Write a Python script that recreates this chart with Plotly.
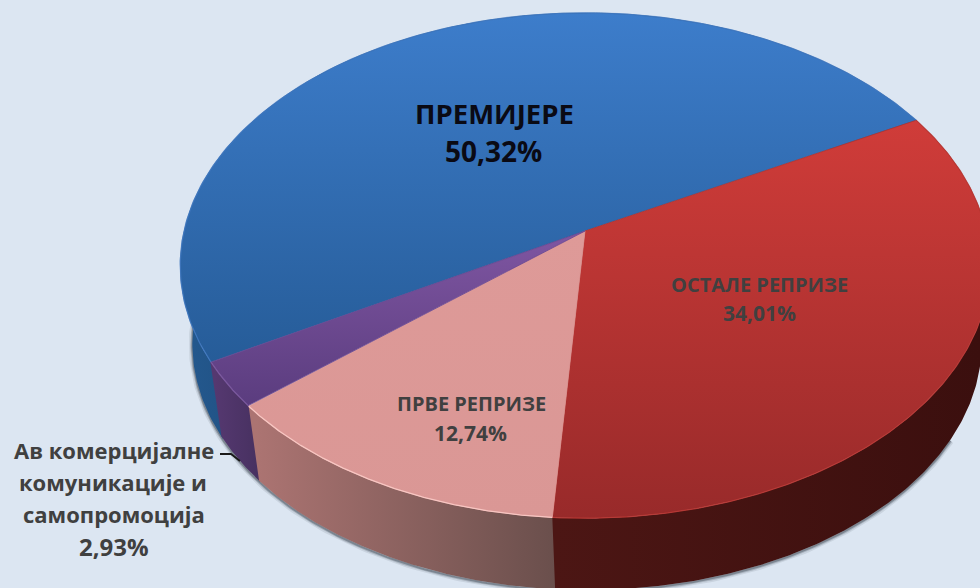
import numpy as np
import plotly.graph_objects as go

categories = ["ПРЕМИЈЕРЕ", "ОСТАЛЕ РЕПРИЗЕ", "ПРВЕ РЕПРИЗЕ", "Ав комерцијалне комуникације и самопромоција"]
values = [50.32, 34.01, 12.74, 2.93]
value_labels = ["50,32%", "34,01%", "12,74%", "2,93%"]
top_colors = [("#3d7dcb", "#265c98"), ("#d03c39", "#982a2a"), ("#de9a98", "#da9795"), ("#7f56a2", "#5a3c7e")]
top_mid = ["#3068a8", "#b5322f", "#dc9896", "#6b4890"]
wall_colors = [("#24598f", "#1f4f80"), ("#4c1614", "#3b0f0e"), ("#ac7472", "#6a4f4c"), ("#553870", "#46305f")]
gradient_spans = [(13, 362), (120, 518), (230, 518), (232, 408)]

START_DEG = -119.55
CX, CY, RX, RY, K = 585, 231, 401, 248, 0.1366
BOTTOM_SCALE, BOTTOM_CY, BOTTOM_CX = 0.975, 310, 587


def project(theta_deg, scale=1.0, cy=CY, cx=CX):
    t = np.radians(theta_deg)
    c, s = np.sin(t), np.cos(t)
    w = 1 + K * s
    return cx + scale * RX * c / w, cy - scale * RY * s / w


def grad(a, b, typ, start, stop):
    return dict(type=typ, start=start, stop=stop, colorscale=[[0, a], [1, b]])


edges = START_DEG + np.concatenate([[0], np.cumsum(values)]) * 3.6
arcs = [np.linspace(edges[i], edges[i + 1], 240) for i in range(len(values))]

fig = go.Figure()

# soft shadow under the near edge
full = np.linspace(120, 300, 300)
sx, sy = project(full, BOTTOM_SCALE, BOTTOM_CY, BOTTOM_CX)
for width, alpha in [(7, 0.10), (4, 0.20), (2, 0.35)]:
    fig.add_trace(go.Scatter(x=sx, y=sy + 1, mode="lines", line=dict(color=f"rgba(40,50,60,{alpha})", width=width),
                             hoverinfo="skip", showlegend=False))

# side walls (slightly overlapped so no seam shows the background)
wall_spans = [(180, 260), (556, 980), (255, 556), (215, 262)]
for i in [0, 1, 3, 2]:
    arc = np.linspace(arcs[i][0] - 0.3, arcs[i][-1] + 0.3, 240) if i != 2 else arcs[i]
    tx, ty = project(arc)
    bx, by = project(arc, BOTTOM_SCALE, BOTTOM_CY, BOTTOM_CX)
    px = np.concatenate([tx, bx[::-1], tx[:1]])
    py = np.concatenate([ty, by[::-1], ty[:1]])
    g = grad(wall_colors[i][0], wall_colors[i][1], "horizontal", wall_spans[i][0], wall_spans[i][1])
    fig.add_trace(go.Scatter(x=px, y=py, mode="lines", fill="toself", fillgradient=g,
                             line=dict(width=0), hoverinfo="skip", showlegend=False, name=categories[i]))

# top faces
for i in range(len(values)):
    ax, ay = project(arcs[i])
    px = np.concatenate([[CX], ax, [CX]])
    py = np.concatenate([[CY], ay, [CY]])
    fig.add_trace(go.Scatter(x=px, y=py, mode="lines", fill="toself",
                             fillgradient=grad(top_colors[i][0], top_colors[i][1], "vertical", gradient_spans[i][0], gradient_spans[i][1]),
                             line=dict(width=0.8, color=top_mid[i]), hoverinfo="skip", showlegend=False, name=categories[i]))

# bevel highlight along the rims
rim_colors = ["rgba(70,125,200,0.6)", "rgba(190,60,55,0.5)", "#f8c6c2", "rgba(125,90,160,0.8)"]
for i in range(len(values)):
    ax, ay = project(arcs[i])
    fig.add_trace(go.Scatter(x=ax, y=ay, mode="lines", line=dict(color=rim_colors[i], width=1.3),
                             hoverinfo="skip", showlegend=False))

FONT = "Open Sans, Noto Sans, sans-serif"
text_items = [
    ("<b>ПРЕМИЈЕРЕ</b>", 494, 113, 27.5, "#0a0a14"),
    ("<b>50,32%</b>", 493, 151, 28, "#0a0a14"),
    ("<b>ОСТАЛЕ РЕПРИЗЕ</b>", 759, 284, 20, "#404040"),
    ("<b>34,01%</b>", 759, 313, 21, "#404040"),
    ("<b>ПРВЕ РЕПРИЗЕ</b>", 471, 403, 20, "#404040"),
    ("<b>12,74%</b>", 470, 433, 21, "#404040"),
    ("<b>Ав комерцијалне</b>", 114, 450, 22, "#404040"),
    ("<b>комуникације и</b>", 113, 482, 22, "#404040"),
    ("<b>самопромоција</b>", 114, 514, 22, "#404040"),
    ("<b>2,93%</b>", 114, 546, 24, "#404040"),
]
annotations = [dict(text=t, x=x, y=y, xref="x", yref="y", xanchor="center", yanchor="middle", showarrow=False,
                    font=dict(family=FONT, size=s, color=c)) for t, x, y, s, c in text_items]

fig.update_layout(
    width=980, height=588, margin=dict(l=0, r=0, t=0, b=0), autosize=False,
    paper_bgcolor="#dce6f2", plot_bgcolor="#dce6f2", showlegend=False,
    xaxis=dict(range=[0, 980], visible=False, fixedrange=True),
    yaxis=dict(range=[588, 0], visible=False, fixedrange=True),
    annotations=annotations,
    shapes=[dict(type="path", path="M 220 454 L 231 454 L 240 461", xref="x", yref="y",
                 line=dict(color="#1a1a1a", width=1.8))],
)
fig.write_html("out.html", config={"displayModeBar": False},
               post_script="document.body.style.margin='0';document.body.style.overflow='hidden';")
